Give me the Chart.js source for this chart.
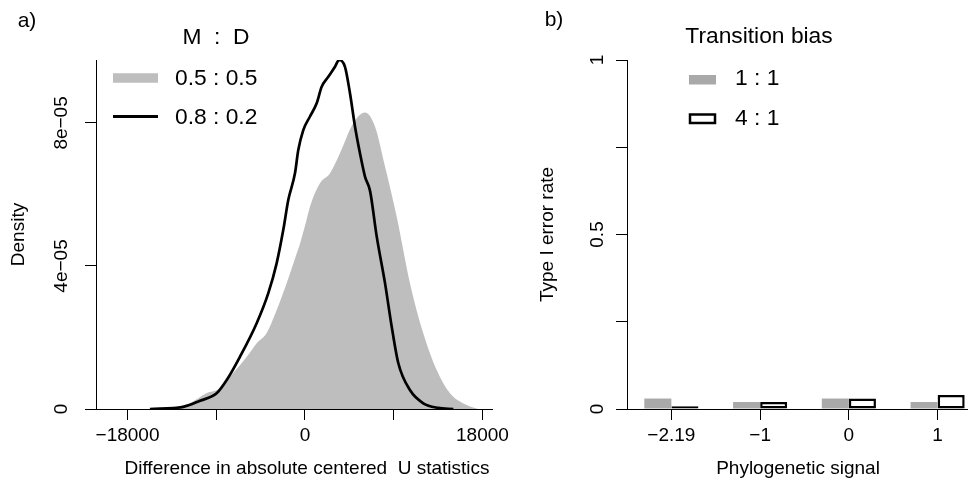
<!DOCTYPE html>
<html>
<head>
<meta charset="utf-8">
<script src="https://cdn.jsdelivr.net/npm/chart.js@4/dist/chart.umd.min.js"></script>
<style>
  html, body { margin: 0; padding: 0; background: #fff; overflow: hidden; width: 968px; height: 483px; }
  #densityChart { position: absolute; left: 0; top: 0; }
  #errorChart { position: absolute; left: 500px; top: 0; }
</style>
</head>
<body>
<canvas id="densityChart" width="520" height="483"></canvas>
<canvas id="errorChart" width="500" height="483"></canvas>
<script>
const FONT = "'Liberation Sans', Arial, Helvetica, sans-serif";
Chart.defaults.font.family = FONT;
Chart.defaults.font.size = 19;
Chart.defaults.color = "#000";

// a) density of the difference in |centered U|, two M : D ratios
const xTicksA = [-18000, -9000, 0, 9000, 18000];
const xTickLabelsA = ["\u221218000", "", "0", "", "18000"];
const yTicksA = [0, 4e-5, 8e-5];
const yTickLabelsA = ["0", "4e\u221205", "8e\u221205"];
const ratioLabels = ["0.5 : 0.5", "0.8 : 0.2"];

const equalX = [-15900, -13700, -11700, -10000, -8600, -7300, -5900, -4900, -3900, -2870, -1860, -840, -500, 170, 510,
  1520, 2540, 3550, 4900, 6090, 7100, 8120, 9300, 10650, 12000, 13360, 14710, 16400, 17550];
const equalY = [0, 3e-7, 1.6e-6, 4.4e-6, 5.8e-6, 1.0e-5, 1.46e-5, 1.84e-5, 2.12e-5, 2.77e-5, 3.52e-5, 4.35e-5, 4.63e-5, 5.3e-5, 5.66e-5,
  6.31e-5, 6.59e-5, 7.15e-5, 7.99e-5, 8.29e-5, 7.9e-5, 6.78e-5, 5.38e-5, 3.52e-5, 2.12e-5, 1.09e-5, 4.4e-6, 1.1e-6, 0];

const biasedX = [-15730, -12350, -10650, -8960, -7940, -6600, -4900, -3720, -2870, -2200, -1690, -1015, -680, -172, 507,
  1187, 1694, 2364, 3044, 3450, 4058, 4566, 5073, 5580, 6088, 6600, 7280, 8120, 8800, 9470, 10650, 12000, 13500, 15050];
const biasedY = [0, 6e-7, 2.3e-6, 4.4e-6, 8.1e-6, 1.46e-5, 2.4e-5, 3.24e-5, 4.08e-5, 5.01e-5, 5.85e-5, 6.59e-5, 7.24e-5, 7.8e-5, 8.18e-5,
  8.55e-5, 9.01e-5, 9.29e-5, 9.57e-5, 9.76e-5, 9.57e-5, 8.83e-5, 7.9e-5, 7.15e-5, 6.5e-5, 6.1e-5, 4.82e-5, 3.52e-5, 2.3e-5, 1.28e-5, 5.3e-6, 1.6e-6, 3e-7, 0];

// b) type I error rate by phylogenetic signal
const signalLabels = ["\u22122.19", "\u22121", "0", "1"];
const rate11 = [0.03, 0.02, 0.03, 0.02];
const rate41 = [0.008, 0.02, 0.03, 0.04];
const yTicksB = [0, 0.25, 0.5, 0.75, 1];
const yTickLabelsB = ["0", "", "0.5", "", "1"];
const biasLabels = ["1 : 1", "4 : 1"];

const GRAY_FILL = "#bebebe";
const GRAY_BAR = "#a9a9a9";

function toPoints(xs, ys) {
  return xs.map((x, i) => ({ x: x, y: ys[i] }));
}

function axisStyle() {
  return {
    grid: { drawOnChartArea: false, drawTicks: true, tickLength: 11, color: "#000", lineWidth: 1 },
    border: { display: true, color: "#000", width: 1 },
  };
}

function fixTicks(values) {
  return (scale) => { scale.ticks = values.map((v) => ({ value: v })); };
}

function fixWidth(w) {
  return (scale) => { scale.width = w; scale.paddingTop = 0; scale.paddingBottom = 0; };
}

function fixHeight(h) {
  return (scale) => { scale.height = h; scale.paddingLeft = 0; scale.paddingRight = 0; };
}

function text(ctx, str, x, y, size, align) {
  ctx.font = size + "px " + FONT;
  ctx.textAlign = align || "center";
  ctx.textBaseline = "middle";
  ctx.fillText(str, x, y);
}

// rotated y tick labels (R style), zero line stub left of the y axis, x title
const axisExtras = {
  id: "axisExtras",
  afterDraw(chart, args, opts) {
    const ctx = chart.ctx, ys = chart.scales.y, area = chart.chartArea;
    ctx.save();
    ctx.fillStyle = "#000";
    opts.values.forEach((v, i) => {
      if (!opts.labels[i]) return;
      ctx.save();
      ctx.translate(opts.labelX, ys.getPixelForValue(v));
      ctx.rotate(-Math.PI / 2);
      text(ctx, opts.labels[i], 0, 0, 19);
      ctx.restore();
    });
    ctx.strokeStyle = "#000";
    ctx.lineWidth = 1;
    ctx.beginPath();
    ctx.moveTo(area.left - 11, area.bottom + 0.5);
    ctx.lineTo(area.left, area.bottom + 0.5);
    ctx.stroke();
    text(ctx, opts.xTitle, opts.xTitleX, opts.xTitleY, 19);
    ctx.restore();
  },
};

const legendA = {
  id: "legendA",
  afterDraw(chart) {
    const ctx = chart.ctx;
    const ds = chart.data.datasets;
    ctx.save();
    ctx.fillStyle = "#000";
    text(ctx, "a)", 27, 21, 21);
    text(ctx, "M  :  D", 216, 38, 22.8);
    ctx.lineCap = "butt";
    [[ds[1], 78], [ds[0], 116.5]].forEach(([d, y]) => {
      ctx.strokeStyle = d.legendColor;
      ctx.lineWidth = d.legendWidth;
      ctx.beginPath();
      ctx.moveTo(113, y);
      ctx.lineTo(158, y);
      ctx.stroke();
      text(ctx, d.label, 175, y + 1, 22.8, "left");
    });
    ctx.restore();
  },
};

const legendB = {
  id: "legendB",
  afterDraw(chart) {
    const ctx = chart.ctx;
    const ds = chart.data.datasets;
    ctx.save();
    ctx.fillStyle = "#000";
    text(ctx, "b)", 54, 20, 21);
    text(ctx, "Transition bias", 259, 37, 22.8);
    ctx.fillStyle = ds[0].backgroundColor;
    ctx.fillRect(189, 75, 27, 9.5);
    ctx.fillStyle = "#fff";
    ctx.strokeStyle = "#000";
    ctx.lineWidth = 2.5;
    ctx.fillRect(190, 114.5, 25, 8.5);
    ctx.strokeRect(190, 114.5, 25, 8.5);
    ctx.fillStyle = "#000";
    text(ctx, ds[0].label, 235, 79, 22.8, "left");
    text(ctx, ds[1].label, 235, 118.5, 22.8, "left");
    ctx.restore();
  },
};

// Density panel
new Chart(document.getElementById("densityChart"), {
  type: "line",
  data: {
    datasets: [
      {
        label: ratioLabels[1],
        data: toPoints(biasedX, biasedY),
        borderColor: "#000",
        borderWidth: 2.7,
        fill: false,
        pointRadius: 0,
        cubicInterpolationMode: "monotone",
        order: 0,
        legendColor: "#000",
        legendWidth: 3,
      },
      {
        label: ratioLabels[0],
        data: toPoints(equalX, equalY),
        borderWidth: 0,
        borderColor: GRAY_FILL,
        backgroundColor: GRAY_FILL,
        fill: "origin",
        pointRadius: 0,
        cubicInterpolationMode: "monotone",
        order: 1,
        legendColor: GRAY_FILL,
        legendWidth: 9.5,
      },
    ],
  },
  options: {
    responsive: false,
    animation: false,
    layout: { padding: { left: 0, top: 60, right: 28, bottom: 0 } },
    plugins: {
      legend: { display: false },
      tooltip: { enabled: false },
      axisExtras: {
        values: yTicksA, labels: yTickLabelsA, labelX: 62,
        xTitle: "Difference in absolute centered  U statistics", xTitleX: 307, xTitleY: 469,
      },
    },
    scales: {
      x: {
        type: "linear",
        min: -21200,
        max: 18973,
        ...axisStyle(),
        afterBuildTicks: fixTicks(xTicksA),
        afterFit: fixHeight(74),
        ticks: {
          autoSkip: false,
          maxRotation: 0,
          padding: 4,
          callback: (v) => xTickLabelsA[xTicksA.indexOf(v)],
        },
      },
      y: {
        min: 0,
        max: 9.76e-5,
        ...axisStyle(),
        afterBuildTicks: fixTicks(yTicksA),
        afterFit: fixWidth(96),
        ticks: { display: false },
        title: { display: true, text: "Density", padding: { top: 7, bottom: 0 } },
      },
    },
  },
  plugins: [axisExtras, legendA],
});

// Type I error panel
new Chart(document.getElementById("errorChart"), {
  type: "bar",
  data: {
    labels: signalLabels,
    datasets: [
      { label: biasLabels[0], data: rate11, backgroundColor: GRAY_BAR, borderWidth: 0 },
      {
        label: biasLabels[1], data: rate41, backgroundColor: "#fff",
        borderColor: "#000", borderWidth: 2.5, borderSkipped: false,
      },
    ],
  },
  options: {
    responsive: false,
    animation: false,
    categoryPercentage: 0.61,
    barPercentage: 1,
    layout: { padding: { left: 0, top: 60, right: 18, bottom: 0 } },
    plugins: {
      legend: { display: false },
      tooltip: { enabled: false },
      axisExtras: {
        values: yTicksB, labels: yTickLabelsB, labelX: 98,
        xTitle: "Phylogenetic signal", xTitleX: 298, xTitleY: 469,
      },
    },
    scales: {
      x: {
        type: "category",
        offset: true,
        ...axisStyle(),
        grid: { drawOnChartArea: false, drawTicks: true, tickLength: 11, color: "#000", lineWidth: 1, offset: false },
        afterFit: fixHeight(74),
        ticks: { autoSkip: false, maxRotation: 0, padding: 4 },
      },
      y: {
        min: 0,
        max: 1,
        ...axisStyle(),
        afterBuildTicks: fixTicks(yTicksB),
        afterFit: fixWidth(127),
        ticks: { display: false },
        title: { display: true, text: "Type I error rate", padding: { top: 36, bottom: 0 } },
      },
    },
  },
  plugins: [axisExtras, legendB],
});
</script>
</body>
</html>
